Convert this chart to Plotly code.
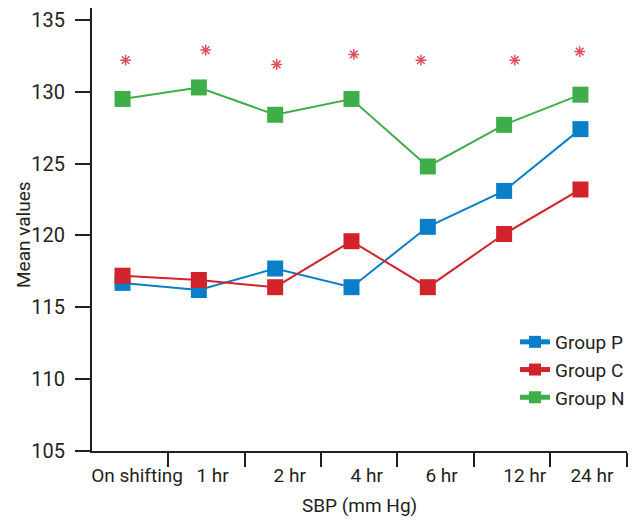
import plotly.graph_objects as go

categories = ["On shifting", "1 hr", "2 hr", "4 hr", "6 hr", "12 hr", "24 hr"]
group_p = [116.7, 116.2, 117.7, 116.4, 120.6, 123.1, 127.4]
group_c = [117.2, 116.9, 116.4, 119.6, 116.4, 120.1, 123.2]
group_n = [129.5, 130.3, 128.4, 129.5, 124.8, 127.7, 129.8]
star_x = [0.04, 1.09, 2.02, 3.03, 3.91, 5.14, 5.99]
star_y = [132.2, 132.9, 131.9, 132.6, 132.2, 132.2, 132.8]
y_ticks = [105, 110, 115, 120, 125, 130, 135]

FONT = "Roboto, sans-serif"
TXT = "#231f20"
x_idx = list(range(len(categories)))

# the page adds an 8px body margin, so the figure is drawn 8px right/down
OFF = 8
L, T, PW, PH = 92 - OFF, 8 - OFF, 535, 443
W, H = 637, 520

fig = go.Figure()
series = [("Group P", group_p, "#0a7ec6"), ("Group C", group_c, "#d2232a"), ("Group N", group_n, "#3fae49")]
for name, vals, col in series:
    fig.add_trace(go.Scatter(
        x=x_idx, y=vals, name=name, mode="lines+markers",
        line=dict(color=col, width=2),
        marker=dict(symbol="square", size=16, color=col),
    ))

fig.add_trace(go.Scatter(
    x=star_x, y=star_y, mode="markers", showlegend=False,
    marker=dict(symbol="asterisk-open", size=9, color="#e0505a",
                line=dict(color="#e0505a", width=1.5)),
))

label_pos = [0.19, 1.18, 2.19, 3.2, 4.18, 5.27, 6.15]
boundary_ticks = [i + 0.6 for i in range(6)] + [6.61]
xr = [-0.4, 6.61]


def px_x(px):  # rendered pixel x -> paper x
    return (px - OFF - L) / PW


def px_y(py):  # rendered pixel y -> paper y
    return (T + PH - (py - OFF)) / PH


fig.update_layout(
    width=W, height=H,
    margin=dict(l=L, r=W - L - PW, t=T, b=H - T - PH),
    paper_bgcolor="white", plot_bgcolor="white",
    font=dict(family=FONT, size=19, color=TXT),
    showlegend=True,
    legend=dict(x=px_x(515), y=px_y(323), xanchor="left", yanchor="top",
                font=dict(size=19, color=TXT), bgcolor="rgba(0,0,0,0)",
                tracegroupgap=0, itemsizing="constant"),
    xaxis=dict(range=xr, tickmode="array", tickvals=boundary_ticks, showticklabels=False,
               ticks="outside", ticklen=14, tickwidth=2, tickcolor=TXT, automargin=False,
               showline=True, linecolor=TXT, linewidth=2, showgrid=False, zeroline=False),
    xaxis2=dict(range=xr, overlaying="x", side="bottom", anchor="y", tickmode="array",
                tickvals=label_pos, ticktext=categories, ticks="outside", ticklen=7,
                tickcolor="rgba(0,0,0,0)", showline=False, showgrid=False, zeroline=False,
                automargin=False, ticklabeloverflow="allow", tickfont=dict(size=19, color=TXT)),
    yaxis=dict(range=[105, 135.83], tickmode="array", tickvals=y_ticks,
               ticks="outside", ticklen=15, tickwidth=2, tickcolor=TXT, automargin=False,
               showline=True, linecolor=TXT, linewidth=2, showgrid=False, zeroline=False,
               ticklabeloverflow="allow",
               tickfont=dict(size=20, color=TXT), ticklabelstandoff=6),
    annotations=[
        dict(text="SBP (mm Hg)", x=px_x(359), y=px_y(505), xref="paper", yref="paper",
             showarrow=False, xanchor="center", yanchor="middle",
             font=dict(size=19, color=TXT)),
        dict(text="Mean values", x=px_x(24), y=px_y(235), xref="paper", yref="paper",
             showarrow=False, textangle=-90, xanchor="center", yanchor="middle",
             font=dict(size=19, color=TXT)),
    ],
)

fig.add_trace(go.Scatter(x=[xr[0]], y=[105], xaxis="x2", mode="markers",
                         marker=dict(opacity=0), showlegend=False, hoverinfo="skip"))

fig.write_html("out.html")
